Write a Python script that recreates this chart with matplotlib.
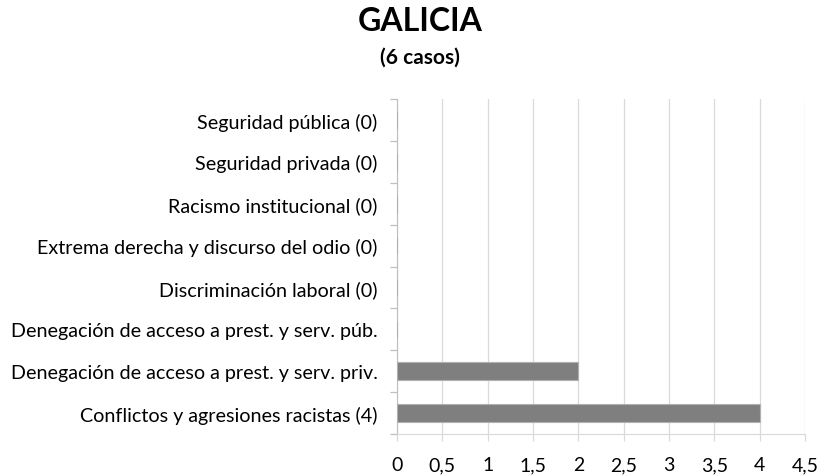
import numpy as np
import matplotlib.pyplot as plt
from matplotlib.ticker import FixedLocator

categorias = [
    "Conflictos y agresiones racistas (4)",
    "Denegación de acceso a prest. y serv. priv.",
    "Denegación de acceso a prest. y serv. púb.",
    "Discriminación laboral (0)",
    "Extrema derecha y discurso del odio (0)",
    "Racismo institucional (0)",
    "Seguridad privada (0)",
    "Seguridad pública (0)",
]
valores = [4, 2, 0, 0, 0, 0, 0, 0]
xticks = [0, 0.5, 1, 1.5, 2, 2.5, 3, 3.5, 4, 4.5]
xtick_labels = ["0", "0,5", "1", "1,5", "2", "2,5", "3", "3,5", "4", "4,5"]

plt.rcParams["font.family"] = ["Lato", "DejaVu Sans"]

fig = plt.figure(figsize=(8.21, 4.77), dpi=100)
ax = fig.add_axes([0.4836, 0.088, 0.497, 0.702])

y = np.arange(len(categorias))
ax.barh(y, valores, height=0.42, color="#7f7f7f", edgecolor="#b0b0b0", linewidth=0.8, zorder=3)

ax.set_xlim(0, 4.5)
ax.set_ylim(-0.5, len(categorias) - 0.5)
ax.set_xticks(xticks)
ax.set_xticklabels(xtick_labels, fontsize=14)
ax.set_yticks(y)
ax.set_yticklabels(categorias, fontsize=14.2)
ax.yaxis.set_minor_locator(FixedLocator(np.arange(-0.5, len(categorias), 1)))

ax.grid(axis="x", color="#d9d9d9", linewidth=0.9, zorder=0)
ax.tick_params(axis="y", which="major", length=0, pad=14)
ax.tick_params(axis="y", which="minor", length=5, color="#bfbfbf", width=0.9)
ax.tick_params(axis="x", length=5, color="#d9d9d9", width=0.9, pad=11)

for s in ["top", "right"]:
    ax.spines[s].set_visible(False)
ax.spines["left"].set_color("#bfbfbf")
ax.spines["bottom"].set_color("#d9d9d9")

fig.text(0.5116, 0.954, "GALICIA", ha="center", va="center", fontsize=23, fontweight="bold")
fig.text(0.5116, 0.88, "(6 casos)", ha="center", va="center", fontsize=15, fontweight="bold")

fig.savefig("out.png", dpi=100)
